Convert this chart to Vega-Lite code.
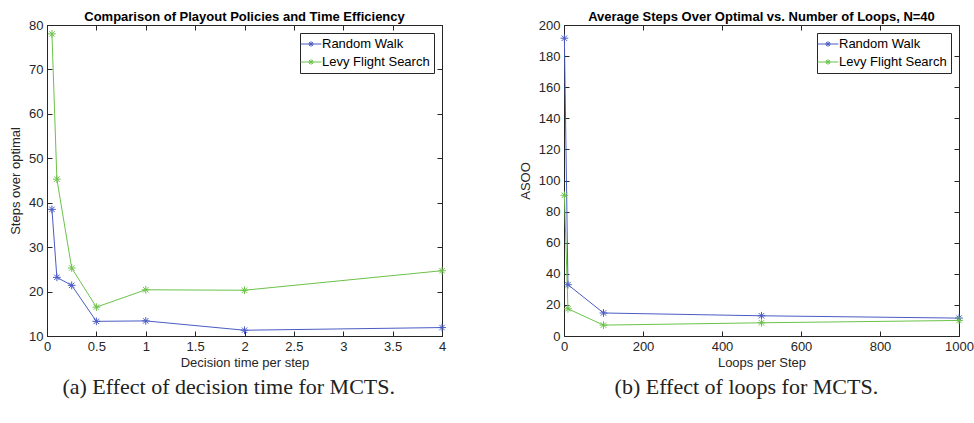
{
  "$schema": "https://vega.github.io/schema/vega-lite/v6.json",
  "background": "white",
  "padding": {"left": 9, "top": 10, "right": 5, "bottom": 5},
  "spacing": 69,
  "resolve": {"scale": {"color": "independent"}, "legend": {"color": "independent"}},
  "config": {
    "font": "Liberation Sans",
    "view": {"stroke": "#262626", "strokeWidth": 1},
    "axis": {"grid": false, "labelFont": "Liberation Sans", "labelFontSize": 13, "labelColor": "#262626", "titleFont": "Liberation Sans", "titleFontSize": 13, "titleFontWeight": "normal", "titleColor": "#262626", "tickColor": "#262626", "domainColor": "#262626", "tickSize": -5, "labelPadding": 9, "labelFlush": false, "titlePadding": 3},
    "title": {"font": "Liberation Sans", "fontSize": 13, "fontWeight": "bold", "color": "#000000", "offset": 1},
    "legend": {"orient": "top-right", "offset": 8, "strokeColor": "#262626", "fillColor": "white", "padding": 4, "labelFontSize": 13, "labelColor": "#000000", "rowPadding": 4, "symbolType": "M-1.7,0L1.7,0M-0.45,0L0.45,0M0,-0.45L0,0.45M-0.32,-0.32L0.32,0.32M-0.32,0.32L0.32,-0.32", "symbolSize": 150, "symbolStrokeWidth": 1, "symbolFillColor": "transparent"}
  },
  "datasets": {
    "time": [
      {"x": 0.05, "y": 38.5, "series": "Random Walk"},
      {"x": 0.1, "y": 23.2, "series": "Random Walk"},
      {"x": 0.25, "y": 21.4, "series": "Random Walk"},
      {"x": 0.5, "y": 13.3, "series": "Random Walk"},
      {"x": 1, "y": 13.4, "series": "Random Walk"},
      {"x": 2, "y": 11.3, "series": "Random Walk"},
      {"x": 4, "y": 11.9, "series": "Random Walk"},
      {"x": 0.05, "y": 78.0, "series": "Levy Flight Search"},
      {"x": 0.1, "y": 45.3, "series": "Levy Flight Search"},
      {"x": 0.25, "y": 25.3, "series": "Levy Flight Search"},
      {"x": 0.5, "y": 16.5, "series": "Levy Flight Search"},
      {"x": 1, "y": 20.4, "series": "Levy Flight Search"},
      {"x": 2, "y": 20.3, "series": "Levy Flight Search"},
      {"x": 4, "y": 24.7, "series": "Levy Flight Search"}
    ],
    "loops": [
      {"x": 1, "y": 191.5, "series": "Random Walk"},
      {"x": 10, "y": 33, "series": "Random Walk"},
      {"x": 100, "y": 14.8, "series": "Random Walk"},
      {"x": 500, "y": 13, "series": "Random Walk"},
      {"x": 1000, "y": 11.5, "series": "Random Walk"},
      {"x": 1, "y": 90.5, "series": "Levy Flight Search"},
      {"x": 10, "y": 17.5, "series": "Levy Flight Search"},
      {"x": 100, "y": 7, "series": "Levy Flight Search"},
      {"x": 500, "y": 8.5, "series": "Levy Flight Search"},
      {"x": 1000, "y": 10, "series": "Levy Flight Search"}
    ]
  },
  "hconcat": [
    {
      "title": {"text": "(a) Effect of decision time for MCTS.", "orient": "bottom", "anchor": "middle", "font": "Liberation Serif", "fontSize": 22, "fontWeight": "normal", "color": "#222222", "offset": 7},
      "resolve": {"scale": {"color": "independent"}, "legend": {"color": "independent"}},
      "vconcat": [
        {
          "width": 395,
          "height": 311,
          "title": {"text": "Comparison of Playout Policies and Time Efficiency", "dy": 6},
          "data": {"name": "time"},
          "resolve": {"axis": {"x": "independent", "y": "independent"}},
          "layer": [
            {
              "mark": {"type": "line", "strokeWidth": 1},
              "encoding": {
                "x": {"field": "x", "type": "quantitative", "scale": {"domain": [0, 4], "nice": false}, "axis": {"values": [0, 0.5, 1, 1.5, 2, 2.5, 3, 3.5, 4], "format": "~g", "title": "Decision time per step"}},
                "y": {"field": "y", "type": "quantitative", "scale": {"domain": [10, 80], "nice": false, "zero": false}, "axis": {"values": [10, 20, 30, 40, 50, 60, 70, 80], "title": "Steps over optimal", "titlePadding": 6}},
                "color": {"field": "series", "type": "nominal", "scale": {"domain": ["Random Walk", "Levy Flight Search"], "range": ["#4a5cc4", "#6cc24a"]}, "legend": {"title": null}}
              }
            },
            {
              "mark": {"type": "point", "shape": "M-1,0L1,0M0,-1L0,1M-0.7,-0.7L0.7,0.7M-0.7,0.7L0.7,-0.7", "filled": false, "size": 60, "strokeWidth": 1, "opacity": 1},
              "encoding": {
                "x": {"field": "x", "type": "quantitative", "axis": {"orient": "top", "labels": false, "title": null, "domain": false, "labelPadding": 0, "titlePadding": 0, "values": [0, 0.5, 1, 1.5, 2, 2.5, 3, 3.5, 4]}},
                "y": {"field": "y", "type": "quantitative", "axis": {"orient": "right", "labels": false, "title": null, "domain": false, "labelPadding": 0, "titlePadding": 0, "values": [10, 20, 30, 40, 50, 60, 70, 80]}},
                "color": {"field": "series", "type": "nominal"}
              }
            }
          ]
        }
      ]
    },
    {
      "title": {"text": "(b) Effect of loops for MCTS.", "orient": "bottom", "anchor": "middle", "font": "Liberation Serif", "fontSize": 22, "fontWeight": "normal", "color": "#222222", "offset": 7},
      "resolve": {"scale": {"color": "independent"}, "legend": {"color": "independent"}},
      "vconcat": [
        {
          "width": 395,
          "height": 311,
          "title": {"text": "Average Steps Over Optimal vs. Number of Loops, N=40", "dy": 6},
          "data": {"name": "loops"},
          "resolve": {"axis": {"x": "independent", "y": "independent"}},
          "layer": [
            {
              "mark": {"type": "line", "strokeWidth": 1},
              "encoding": {
                "x": {"field": "x", "type": "quantitative", "scale": {"domain": [0, 1000], "nice": false}, "axis": {"values": [0, 200, 400, 600, 800, 1000], "format": "d", "title": "Loops per Step"}},
                "y": {"field": "y", "type": "quantitative", "scale": {"domain": [0, 200], "nice": false}, "axis": {"values": [0, 20, 40, 60, 80, 100, 120, 140, 160, 180, 200], "title": "ASOO", "titlePadding": 6}},
                "color": {"field": "series", "type": "nominal", "scale": {"domain": ["Random Walk", "Levy Flight Search"], "range": ["#4a5cc4", "#6cc24a"]}, "legend": {"title": null}}
              }
            },
            {
              "mark": {"type": "point", "shape": "M-1,0L1,0M0,-1L0,1M-0.7,-0.7L0.7,0.7M-0.7,0.7L0.7,-0.7", "filled": false, "size": 60, "strokeWidth": 1, "opacity": 1},
              "encoding": {
                "x": {"field": "x", "type": "quantitative", "axis": {"orient": "top", "labels": false, "title": null, "domain": false, "labelPadding": 0, "titlePadding": 0, "values": [0, 200, 400, 600, 800, 1000]}},
                "y": {"field": "y", "type": "quantitative", "axis": {"orient": "right", "labels": false, "title": null, "domain": false, "labelPadding": 0, "titlePadding": 0, "values": [0, 20, 40, 60, 80, 100, 120, 140, 160, 180, 200]}},
                "color": {"field": "series", "type": "nominal"}
              }
            }
          ]
        }
      ]
    }
  ]
}
